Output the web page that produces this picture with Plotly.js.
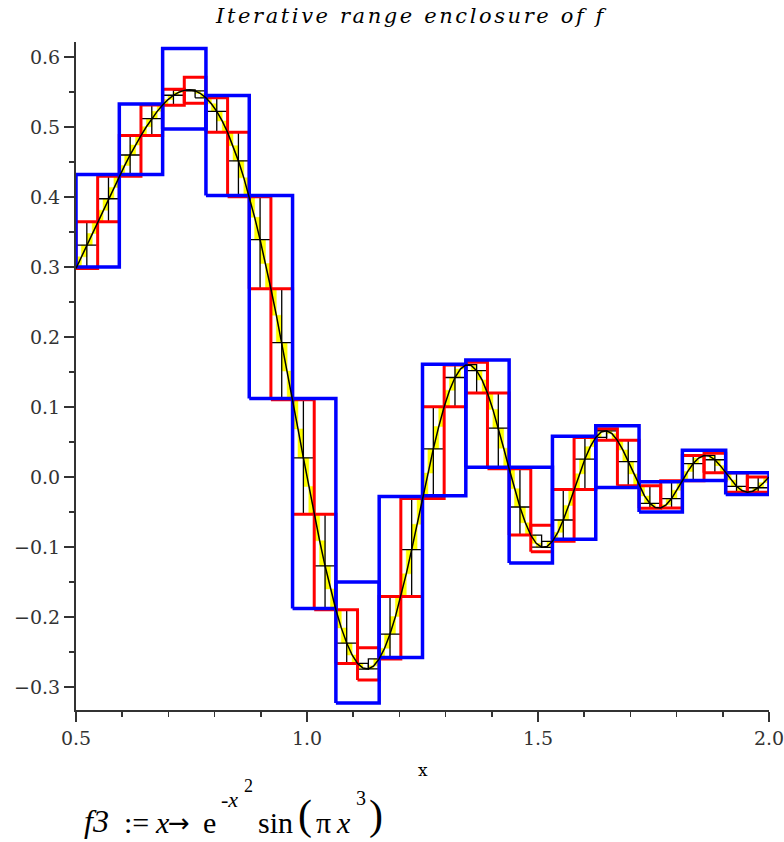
<!DOCTYPE html>
<html>
<head>
<meta charset="utf-8">
<script src="https://cdn.plot.ly/plotly-3.0.1.min.js"></script>
<style>
  html, body { margin: 0; padding: 0; background: #ffffff; }
  #chart { width: 784px; height: 842px; }
  .gtitle { letter-spacing: 2.6px; }
</style>
</head>
<body>
<div id="chart"></div>
<script>
// Domain of the enclosure plot
const xStart = 0.5;
const xEnd = 2.0;

// f3(x) sampled on the 128-piece grid of [0.5, 2]
const curveY = [
  0.2980, 0.3145, 0.3311, 0.3478, 0.3645, 0.3811, 0.3975, 0.4137, 0.4296, 0.4451,
  0.4600, 0.4742, 0.4877, 0.5003, 0.5119, 0.5223, 0.5314, 0.5392, 0.5453, 0.5497,
  0.5523, 0.5530, 0.5515, 0.5478, 0.5417, 0.5332, 0.5222, 0.5086, 0.4923, 0.4733,
  0.4516, 0.4273, 0.4003, 0.3709, 0.3390, 0.3050, 0.2689, 0.2311, 0.1918, 0.1513,
  0.1102, 0.0687, 0.0273, -0.0135, -0.0531, -0.0911, -0.1269, -0.1599, -0.1896, -0.2156,
  -0.2373, -0.2543, -0.2663, -0.2730, -0.2742, -0.2698, -0.2599, -0.2447, -0.2244, -0.1995,
  -0.1706, -0.1384, -0.1038, -0.0675, -0.0308, 0.0055, 0.0401, 0.0720, 0.1003, 0.1239,
  0.1421, 0.1542, 0.1600, 0.1592, 0.1519, 0.1386, 0.1198, 0.0965, 0.0698, 0.0411,
  0.0117, -0.0168, -0.0429, -0.0654, -0.0830, -0.0948, -0.1003, -0.0993, -0.0920, -0.0791,
  -0.0615, -0.0406, -0.0180, 0.0046, 0.0256, 0.0433, 0.0565, 0.0642, 0.0659, 0.0618,
  0.0523, 0.0386, 0.0220, 0.0044, -0.0125, -0.0271, -0.0378, -0.0437, -0.0443, -0.0398,
  -0.0309, -0.0189, -0.0054, 0.0079, 0.0192, 0.0271, 0.0307, 0.0298, 0.0246, 0.0162,
  0.0060, -0.0044, -0.0133, -0.0194, -0.0218, -0.0203, -0.0154, -0.0082, 0.0000
];

// Finest enclosure (128 pieces), filled yellow
const yellowLo = [
  0.2980, 0.3145, 0.3311, 0.3478, 0.3645, 0.3811, 0.3975, 0.4137, 0.4296, 0.4451,
  0.4600, 0.4742, 0.4877, 0.5003, 0.5119, 0.5223, 0.5314, 0.5392, 0.5453, 0.5497,
  0.5523, 0.5515, 0.5478, 0.5417, 0.5332, 0.5222, 0.5086, 0.4923, 0.4733, 0.4516,
  0.4273, 0.4003, 0.3709, 0.3390, 0.3050, 0.2689, 0.2311, 0.1918, 0.1513, 0.1102,
  0.0687, 0.0273, -0.0135, -0.0531, -0.0911, -0.1269, -0.1599, -0.1896, -0.2156, -0.2373,
  -0.2543, -0.2663, -0.2730, -0.2744, -0.2742, -0.2698, -0.2599, -0.2447, -0.2244, -0.1995,
  -0.1706, -0.1384, -0.1038, -0.0675, -0.0308, 0.0055, 0.0401, 0.0720, 0.1003, 0.1239,
  0.1421, 0.1542, 0.1592, 0.1519, 0.1386, 0.1198, 0.0965, 0.0698, 0.0411, 0.0117,
  -0.0168, -0.0429, -0.0654, -0.0830, -0.0948, -0.1003, -0.1007, -0.0993, -0.0920, -0.0791,
  -0.0615, -0.0406, -0.0180, 0.0046, 0.0256, 0.0433, 0.0565, 0.0642, 0.0618, 0.0523,
  0.0386, 0.0220, 0.0044, -0.0125, -0.0271, -0.0378, -0.0437, -0.0447, -0.0443, -0.0398,
  -0.0309, -0.0189, -0.0054, 0.0079, 0.0192, 0.0271, 0.0298, 0.0246, 0.0162, 0.0060,
  -0.0044, -0.0133, -0.0194, -0.0218, -0.0218, -0.0203, -0.0154, -0.0082
];
const yellowHi = [
  0.3145, 0.3311, 0.3478, 0.3645, 0.3811, 0.3975, 0.4137, 0.4296, 0.4451, 0.4600,
  0.4742, 0.4877, 0.5003, 0.5119, 0.5223, 0.5314, 0.5392, 0.5453, 0.5497, 0.5523,
  0.5530, 0.5530, 0.5515, 0.5478, 0.5417, 0.5332, 0.5222, 0.5086, 0.4923, 0.4733,
  0.4516, 0.4273, 0.4003, 0.3709, 0.3390, 0.3050, 0.2689, 0.2311, 0.1918, 0.1513,
  0.1102, 0.0687, 0.0273, -0.0135, -0.0531, -0.0911, -0.1269, -0.1599, -0.1896, -0.2156,
  -0.2373, -0.2543, -0.2663, -0.2730, -0.2698, -0.2599, -0.2447, -0.2244, -0.1995, -0.1706,
  -0.1384, -0.1038, -0.0675, -0.0308, 0.0055, 0.0401, 0.0720, 0.1003, 0.1239, 0.1421,
  0.1542, 0.1600, 0.1605, 0.1592, 0.1519, 0.1386, 0.1198, 0.0965, 0.0698, 0.0411,
  0.0117, -0.0168, -0.0429, -0.0654, -0.0830, -0.0948, -0.0993, -0.0920, -0.0791, -0.0615,
  -0.0406, -0.0180, 0.0046, 0.0256, 0.0433, 0.0565, 0.0642, 0.0660, 0.0659, 0.0618,
  0.0523, 0.0386, 0.0220, 0.0044, -0.0125, -0.0271, -0.0378, -0.0437, -0.0398, -0.0309,
  -0.0189, -0.0054, 0.0079, 0.0192, 0.0271, 0.0307, 0.0309, 0.0298, 0.0246, 0.0162,
  0.0060, -0.0044, -0.0133, -0.0194, -0.0203, -0.0154, -0.0082, 0.0000
];

// 64-piece enclosure, black outlines
const blackLo = [
  0.2980, 0.3311, 0.3645, 0.3975, 0.4296, 0.4600, 0.4877, 0.5119, 0.5314, 0.5453,
  0.5515, 0.5417, 0.5222, 0.4923, 0.4516, 0.4003, 0.3390, 0.2689, 0.1918, 0.1102,
  0.0273, -0.0531, -0.1269, -0.1896, -0.2373, -0.2663, -0.2744, -0.2742, -0.2599, -0.2244,
  -0.1706, -0.1038, -0.0308, 0.0401, 0.1003, 0.1421, 0.1519, 0.1198, 0.0698, 0.0117,
  -0.0429, -0.0830, -0.1003, -0.1007, -0.0920, -0.0615, -0.0180, 0.0256, 0.0565, 0.0523,
  0.0220, -0.0125, -0.0378, -0.0447, -0.0443, -0.0309, -0.0054, 0.0192, 0.0246, 0.0060,
  -0.0133, -0.0218, -0.0218, -0.0154
];
const blackHi = [
  0.3311, 0.3645, 0.3975, 0.4296, 0.4600, 0.4877, 0.5119, 0.5314, 0.5453, 0.5523,
  0.5530, 0.5515, 0.5417, 0.5222, 0.4923, 0.4516, 0.4003, 0.3390, 0.2689, 0.1918,
  0.1102, 0.0273, -0.0531, -0.1269, -0.1896, -0.2373, -0.2663, -0.2599, -0.2244, -0.1706,
  -0.1038, -0.0308, 0.0401, 0.1003, 0.1421, 0.1600, 0.1605, 0.1519, 0.1198, 0.0698,
  0.0117, -0.0429, -0.0830, -0.0920, -0.0615, -0.0180, 0.0256, 0.0565, 0.0660, 0.0659,
  0.0523, 0.0220, -0.0125, -0.0378, -0.0309, -0.0054, 0.0192, 0.0307, 0.0309, 0.0246,
  0.0060, -0.0133, -0.0154, 0.0000
];

// 32-piece enclosure, red
const redLo = [
  0.2980, 0.3645, 0.4296, 0.4877, 0.5310, 0.5340, 0.4923, 0.4003, 0.2689, 0.1102,
  -0.0531, -0.1896, -0.2663, -0.2900, -0.2599, -0.1706, -0.0308, 0.1003, 0.1198, 0.0117,
  -0.0830, -0.1070, -0.0920, -0.0180, 0.0523, -0.0125, -0.0446, -0.0443, -0.0054, 0.0060,
  -0.0218, -0.0219
];
const redHi = [
  0.3645, 0.4296, 0.4877, 0.5314, 0.5540, 0.5710, 0.5417, 0.4923, 0.4003, 0.2689,
  0.1102, -0.0531, -0.1896, -0.2440, -0.1706, -0.0308, 0.1003, 0.1600, 0.1640, 0.1198,
  0.0117, -0.0690, -0.0180, 0.0565, 0.0690, 0.0523, -0.0125, -0.0054, 0.0307, 0.0340,
  0.0060, 0.0000
];

// 16-piece enclosure, blue
const blueLo = [
  0.300, 0.432, 0.497, 0.402, 0.112, -0.188, -0.323, -0.258,
  -0.027, 0.014, -0.123, -0.089, -0.015, -0.050, -0.005, -0.025
];
const blueHi = [
  0.432, 0.533, 0.612, 0.545, 0.402, 0.112, -0.150, -0.028,
  0.161, 0.167, 0.014, 0.058, 0.073, -0.007, 0.038, 0.006
];

// Axis ticks
const xTickVals = [0.5, 1.0, 1.5, 2.0];
const yTickVals = [-0.3, -0.2, -0.1, 0.0, 0.1, 0.2, 0.3, 0.4, 0.5, 0.6];

// Equal subdivision of the domain into n pieces
function edges(n) {
  const e = [];
  for (let i = 0; i <= n; i++) e.push(xStart + (xEnd - xStart) * i / n);
  return e;
}

// Closed rectangle outlines, one per piece, separated by gaps
function boxPath(lo, hi) {
  const e = edges(lo.length);
  const xs = [], ys = [];
  for (let i = 0; i < lo.length; i++) {
    xs.push(e[i], e[i + 1], e[i + 1], e[i], e[i], null);
    ys.push(lo[i], lo[i], hi[i], hi[i], lo[i], null);
  }
  return { xs, ys };
}

const yellow = boxPath(yellowLo, yellowHi);
const black = boxPath(blackLo, blackHi);
const red = boxPath(redLo, redHi);
const blue = boxPath(blueLo, blueHi);

const traces = [
  { x: yellow.xs, y: yellow.ys, type: 'scatter', mode: 'lines', fill: 'toself',
    fillcolor: '#ffff00', line: { color: '#ffff00', width: 0.5 }, hoverinfo: 'skip' },
  { x: black.xs, y: black.ys, type: 'scatter', mode: 'lines',
    line: { color: '#000000', width: 1.3 }, hoverinfo: 'skip' },
  { x: red.xs, y: red.ys, type: 'scatter', mode: 'lines',
    line: { color: '#ff0000', width: 3 }, hoverinfo: 'skip' },
  { x: blue.xs, y: blue.ys, type: 'scatter', mode: 'lines',
    line: { color: '#0000ff', width: 3.5 }, hoverinfo: 'skip' },
  { x: edges(curveY.length - 1), y: curveY, type: 'scatter', mode: 'lines',
    line: { color: '#000000', width: 1.5 }, hoverinfo: 'skip' }
];

const tickFont = { family: 'DejaVu Serif', size: 19, color: '#333333' };
const serif = 'Liberation Serif, serif';
const mathFont = { family: serif, size: 30, color: '#000000' };

// Pixel helpers for text placed outside the plotting area
const plotL = 76, plotW = 693, plotB = 710, plotH = 668;
const px = v => (v - plotL) / plotW;
const py = v => (plotB - v) / plotH;

function note(text, x, y, font) {
  return { text: text, x: px(x), y: py(y), xref: 'paper', yref: 'paper',
           xanchor: 'left', yanchor: 'middle', showarrow: false, font: font };
}

const layout = {
  width: 784, height: 842,
  margin: { l: 76, r: 15, t: 42, b: 132 },
  paper_bgcolor: '#ffffff', plot_bgcolor: '#ffffff',
  showlegend: false,
  title: {
    text: 'Iterative range enclosure of f',
    font: { family: 'DejaVu Serif', size: 21, style: 'italic', color: '#000000' },
    xref: 'container', yref: 'container',
    x: 411 / 784, xanchor: 'center', y: 1 - 16 / 842, yanchor: 'middle'
  },
  xaxis: {
    range: [xStart, xEnd], showgrid: false, zeroline: false,
    showline: true, linecolor: '#333333', linewidth: 2,
    ticks: 'outside', ticklen: 10, tickwidth: 1.5, tickcolor: '#333333',
    tickvals: xTickVals, tickformat: '.1f', tickfont: tickFont,
    ticklabeloverflow: 'allow',
    minor: { ticks: 'outside', ticklen: 5, tickwidth: 1.5, tickcolor: '#333333',
             tick0: 0.5, dtick: 0.1, showgrid: false }
  },
  yaxis: {
    range: [-0.3329, 0.6214], showgrid: false, zeroline: false,
    showline: true, linecolor: '#333333', linewidth: 2,
    ticks: 'outside', ticklen: 10, tickwidth: 1.5, tickcolor: '#333333',
    tickvals: yTickVals, tickformat: '.1f', tickfont: tickFont,
    ticklabeloverflow: 'allow',
    minor: { ticks: 'outside', ticklen: 5, tickwidth: 1.5, tickcolor: '#333333',
             tick0: 0, dtick: 0.05, showgrid: false }
  },
  annotations: [
    { text: 'x', x: 0.5, y: py(770), xref: 'paper', yref: 'paper', xanchor: 'center',
      yanchor: 'middle', showarrow: false,
      font: { family: 'DejaVu Serif', size: 17, color: '#000000' } },
    note('<i>f3</i>', 82, 821, { family: serif, size: 32, color: '#000' }),
    note(':=', 122, 822, mathFont),
    note('<i>x</i>', 153, 822, mathFont),
    note('\u2192', 166, 823, { family: 'DejaVu Sans', size: 26, color: '#000' }),
    note('e', 201, 822, mathFont),
    note('-<i>x</i>', 219, 800, { family: serif, size: 22, color: '#000' }),
    note('2', 242, 786, { family: serif, size: 18, color: '#000' }),
    note('sin', 256, 822, mathFont),
    note('(', 296, 815, { family: serif, size: 42, color: '#000' }),
    note('\u03c0', 314, 822, mathFont),
    note('<i>x</i>', 334, 822, mathFont),
    note('3', 354, 798, { family: serif, size: 20, color: '#000' }),
    note(')', 367, 815, { family: serif, size: 42, color: '#000' })
  ]
};

Plotly.newPlot('chart', traces, layout, { displayModeBar: false, staticPlot: true });
</script>
</body>
</html>
